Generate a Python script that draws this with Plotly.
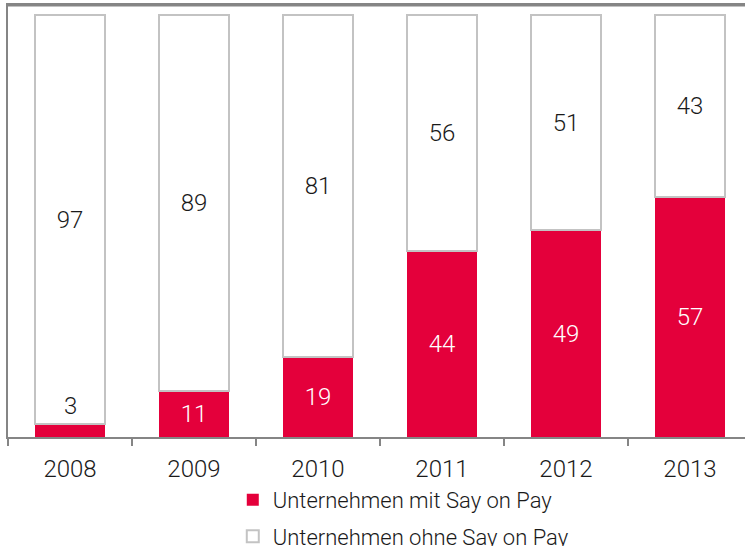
import plotly.graph_objects as go

years = ['2008', '2009', '2010', '2011', '2012', '2013']
mit_say_on_pay = [3, 11, 19, 44, 49, 57]
ohne_say_on_pay = [97, 89, 81, 56, 51, 43]

RED = '#e4003b'
GRAY = '#c3c3c3'
AXIS = '#858585'
INK = '#1a1a1a'
FONT = 'Roboto'
FS = 24

fig = go.Figure()

# the tiny 2008 segment gets its label above the bar (annotation below)
red_text = [str(v) if v >= 10 else '' for v in mit_say_on_pay]

fig.add_trace(go.Bar(
    x=years, y=mit_say_on_pay, name='Unternehmen mit Say on Pay',
    marker=dict(color=RED, line=dict(width=0)),
    text=red_text, textposition='inside', insidetextanchor='middle',
    textfont=dict(color='white', size=FS, family=FONT, weight=300),
    width=0.565, legendgroup='a',
))
fig.add_trace(go.Bar(
    x=years, y=ohne_say_on_pay, name='Unternehmen ohne Say on Pay',
    marker=dict(color='white', line=dict(color=GRAY, width=2)),
    text=[str(v) for v in ohne_say_on_pay], textposition='inside', insidetextanchor='middle',
    textfont=dict(color=INK, size=FS, family=FONT, weight=300),
    width=0.565, legendgroup='b',
))

for i, v in enumerate(mit_say_on_pay):
    if v < 10:
        fig.add_annotation(x=i, y=v, text=str(v), showarrow=False, yanchor='bottom',
                           yshift=2, font=dict(color=INK, size=FS, family=FONT, weight=300))

# frame line along the top of the plot area
fig.add_shape(type='line', xref='paper', yref='paper', x0=0, x1=1, y0=1, y1=1,
              line=dict(color=AXIS, width=3), layer='above')

fig.update_layout(
    width=745, height=546,
    margin=dict(l=8, r=0, t=5, b=109, autoexpand=False),
    barmode='stack',
    plot_bgcolor='white', paper_bgcolor='white',
    font=dict(family=FONT, size=FS, color=INK, weight=300),
    uniformtext=dict(mode=False),
    legend=dict(
        orientation='v', x=0.305, xanchor='left',
        yref='container', y=0.123, yanchor='top',
        traceorder='grouped', tracegroupgap=5,
        font=dict(size=22, color=INK, family=FONT, weight=300),
        itemwidth=30,
    ),
)

fig.update_xaxes(
    type='category', range=[-0.5, 5.444], automargin=False,
    showline=True, linecolor=AXIS, linewidth=2, mirror=True,
    ticks='outside', tickson='boundaries', ticklen=7, tickcolor=AXIS, tickwidth=2,
    ticklabelstandoff=9,
    tickfont=dict(size=FS, color=INK, family=FONT, weight=300),
    showgrid=False,
)
fig.update_yaxes(
    range=[0, 102.4], automargin=False, showticklabels=False, showgrid=False, zeroline=False,
    showline=True, linecolor=AXIS, linewidth=2, mirror=True,
)

# drop the browser's default body margin so the figure sits at the page corner
fig.write_html("out.html", config={'displayModeBar': False},
               post_script="document.body.style.margin='0';")
